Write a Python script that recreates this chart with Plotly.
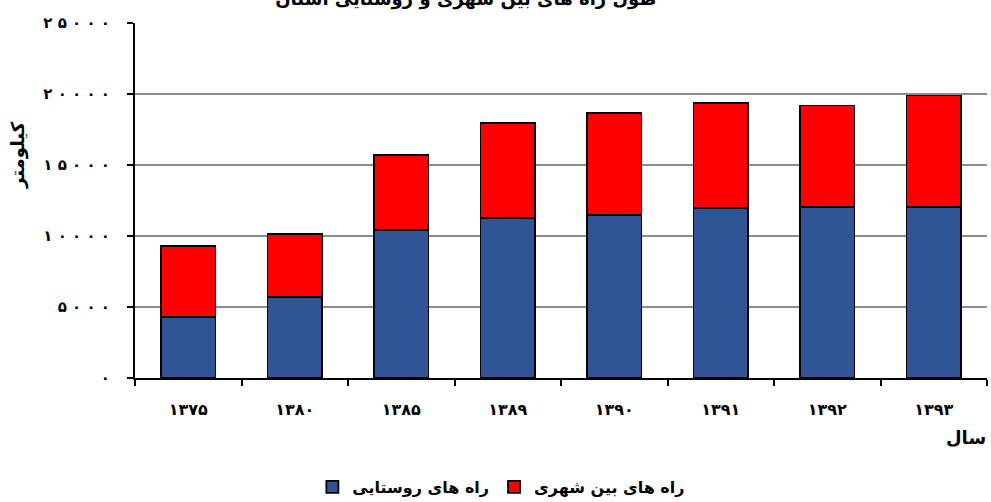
import plotly.graph_objects as go

years = ["۱۳۷۵", "۱۳۸۰", "۱۳۸۵", "۱۳۸۹", "۱۳۹۰", "۱۳۹۱", "۱۳۹۲", "۱۳۹۳"]
rural = [4290, 5690, 10420, 11260, 11460, 11990, 12020, 12040]
intercity = [5000, 4450, 5270, 6690, 7220, 7390, 7170, 7860]
ytick_vals = [0, 5000, 10000, 15000, 20000, 25000]
ytick_text = ["۰", "۵ ۰ ۰ ۰", "۱ ۰ ۰ ۰ ۰", "۱ ۵ ۰ ۰ ۰", "۲ ۰ ۰ ۰ ۰", "۲ ۵ ۰ ۰ ۰"]

FONT = "DejaVu Sans"

fig = go.Figure()
fig.add_trace(go.Bar(x=years, y=rural, name="راه های روستایی",
                     marker=dict(color="#2F5597", line=dict(color="black", width=1.8))))
fig.add_trace(go.Bar(x=years, y=intercity, name="راه های بین شهری",
                     marker=dict(color="#FF0000", line=dict(color="black", width=1.8))))

fig.update_layout(
    width=991, height=502,
    barmode="stack", bargap=0.49,
    paper_bgcolor="white", plot_bgcolor="white",
    margin=dict(l=135, r=4, t=23, b=124, autoexpand=False),
    font=dict(family=FONT, size=14, color="black", weight="bold"),
    title=dict(text="طول راه های بین شهری و روستایی استان",
               x=0.47, xanchor="center", y=1.0 - 5/502, yref="container", yanchor="bottom",
               font=dict(size=18, weight="bold")),
    showlegend=True,
    legend=dict(orientation="h", x=0.43, xanchor="center", y=1 - 487/502, yref="container",
                yanchor="middle",
                traceorder="normal", font=dict(size=16, family=FONT, weight="bold"),
                itemwidth=30),
    xaxis=dict(showline=True, linecolor="black", linewidth=2, automargin=False,
               ticks="outside", ticklen=6, tickcolor="black", tickwidth=1.5,
               ticklabelstandoff=16,
               tickson="boundaries", tickfont=dict(size=16, family=FONT, weight="bold"),
               showgrid=False),
    yaxis=dict(range=[0, 25000], tickvals=ytick_vals, ticktext=ytick_text, automargin=False,
               showline=True, linecolor="black", linewidth=2,
               ticks="outside", ticklen=6, tickcolor="black", tickwidth=1.5,
               ticklabelstandoff=14,
               showgrid=True, gridcolor="#8c8c8c", gridwidth=1.5,
               tickfont=dict(size=15, family=FONT, weight="bold"), zeroline=False),
    annotations=[
        dict(text="سال", x=0.975, xref="paper", y=-0.17, yref="paper",
             xanchor="center", yanchor="middle",
             showarrow=False, font=dict(size=18, weight="bold")),
        dict(text="کیلومتر", textangle=-90, x=-0.137, xref="paper",
             y=0.63, yref="paper", xanchor="center", yanchor="middle",
             showarrow=False, font=dict(size=18, weight="bold")),
    ],
)
fig.layout.annotations[0].update(x=(966 - 135) / 852, y=-(437 - 378) / 355)
fig.layout.annotations[1].update(x=-(135 - 18) / 852, y=(378 - 155) / 355)

fig.write_html("out.html", config={"displayModeBar": False},
               post_script="document.body.style.margin='0';document.body.style.overflow='hidden';")
